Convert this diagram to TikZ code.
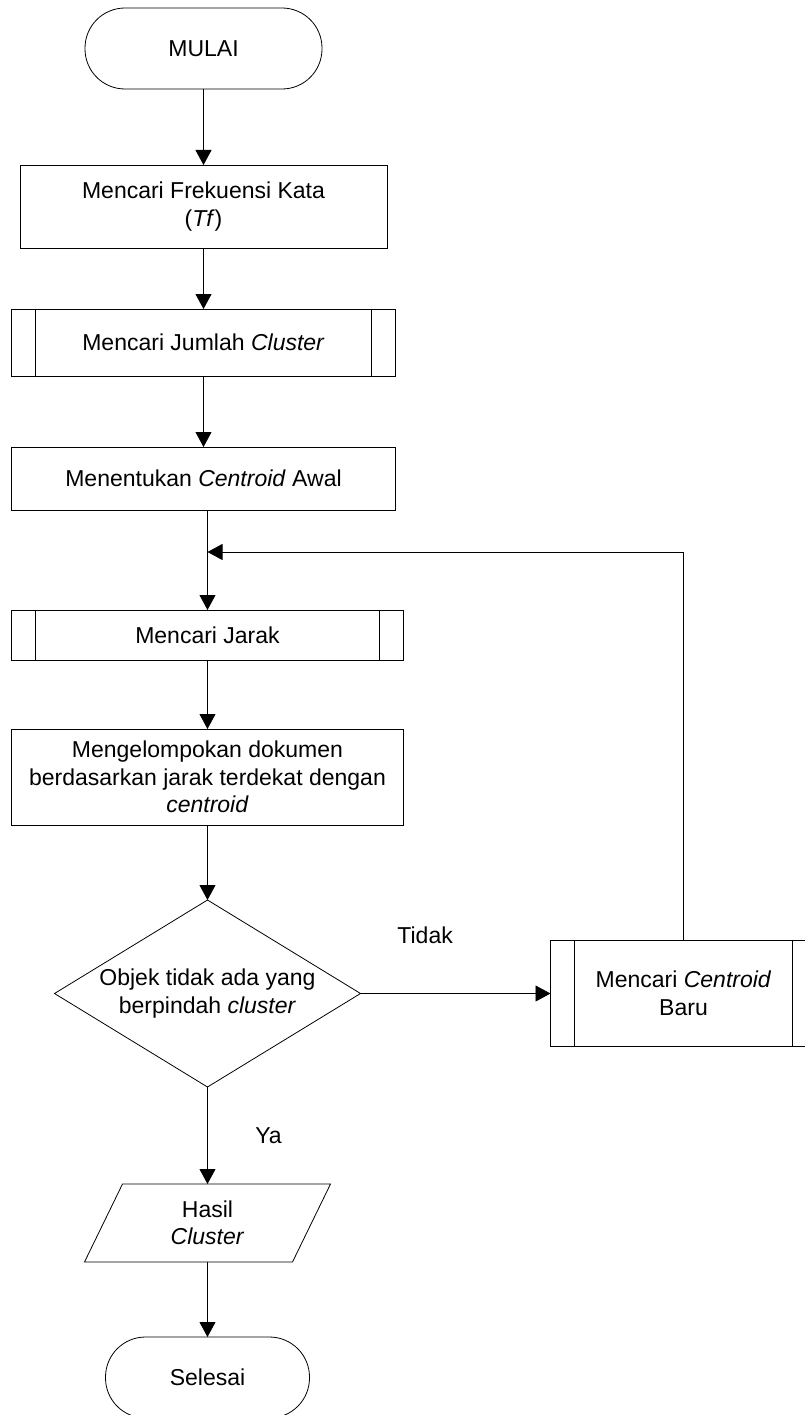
\documentclass[tikz,border=0pt]{standalone}
\usepackage{fontspec}
\setmainfont{Liberation Sans}
\usetikzlibrary{arrows.meta, positioning, shapes.geometric}

\begin{document}
\begin{tikzpicture}[
  x=1pt, y=-1pt,
  line width=0.8pt,
  every node/.style={font=\fontsize{23}{27.5}\selectfont, outer sep=0pt},
  terminal/.style={rectangle, draw, rounded corners=40pt, align=center, minimum width=237pt, minimum height=81pt},
  box/.style={rectangle, draw, align=center, minimum width=384pt, minimum height=63pt},
  subproc/.style={box, path picture={
      \draw ([xshift=24pt]path picture bounding box.north west) -- ([xshift=24pt]path picture bounding box.south west);
      \draw ([xshift=-24pt]path picture bounding box.north east) -- ([xshift=-24pt]path picture bounding box.south east);}},
  decision/.style={diamond, draw, align=center, inner sep=0pt, aspect=1.6, minimum width=306pt, minimum height=187pt},
  io/.style={rectangle, align=center, inner sep=0pt, minimum width=208pt, minimum height=78pt},
  lbl/.style={inner sep=0pt},
  arr/.style={-{Triangle[length=15pt, width=16pt]}}
]
\useasboundingbox (0,0) rectangle (805,1415);

% Main column
\node[terminal] (start) at (203.5,48.5) {MULAI};
\node[box, minimum width=367pt, minimum height=83pt, below=76pt of start] (tf) {Mencari Frekuensi Kata\\(\textit{Tf})};
\node[subproc, minimum height=67pt, below=61pt of tf] (jumlah) {Mencari Jumlah \textit{Cluster}};
\node[box, below=71pt of jumlah] (awal) {Menentukan \textit{Centroid} Awal};
\node[subproc, minimum width=392pt, minimum height=50pt, below=100pt of awal, xshift=4pt] (jarak) {Mencari Jarak};
\node[box, minimum width=392pt, minimum height=96pt, below=69pt of jarak] (kelompok) {Mengelompokan dokumen\\berdasarkan jarak terdekat dengan\\\textit{centroid}};
\node[decision, below=75pt of kelompok] (cek) {Objek tidak ada yang\\berpindah \textit{cluster}};
\node[io, below=97pt of cek] (hasil) {Hasil\\\textit{Cluster}};
\draw ([xshift=-19pt]hasil.south west) -- ([xshift=-19pt]hasil.south east)
  -- ([xshift=19pt]hasil.north east) -- ([xshift=19pt]hasil.north west) -- cycle;
\node[terminal, minimum width=204pt, below=75pt of hasil] (selesai) {Selesai};

% Loop branch
\node[subproc, minimum width=266pt, minimum height=106pt, right=190pt of cek] (baru) {Mencari \textit{Centroid}\\Baru};
\coordinate (join) at ([yshift=-42pt]awal.south -| jarak.north);

% Arrows
\draw[arr] (start) -- (tf);
\draw[arr] (tf) -- (jumlah);
\draw[arr] (jumlah) -- (awal);
\draw[arr] (awal.south -| jarak.north) -- (jarak.north);
\draw[arr] (jarak) -- (kelompok);
\draw[arr] (kelompok) -- (cek);
\draw[arr] (cek) -- node[lbl, pos=0.34, yshift=58pt] {Tidak} (baru);
\draw[arr] (cek) -- node[lbl, pos=0.5, xshift=61pt] {Ya} (hasil);
\draw[arr] (hasil) -- (selesai);
\draw[arr] (baru) |- (join);

\end{tikzpicture}
\end{document}
